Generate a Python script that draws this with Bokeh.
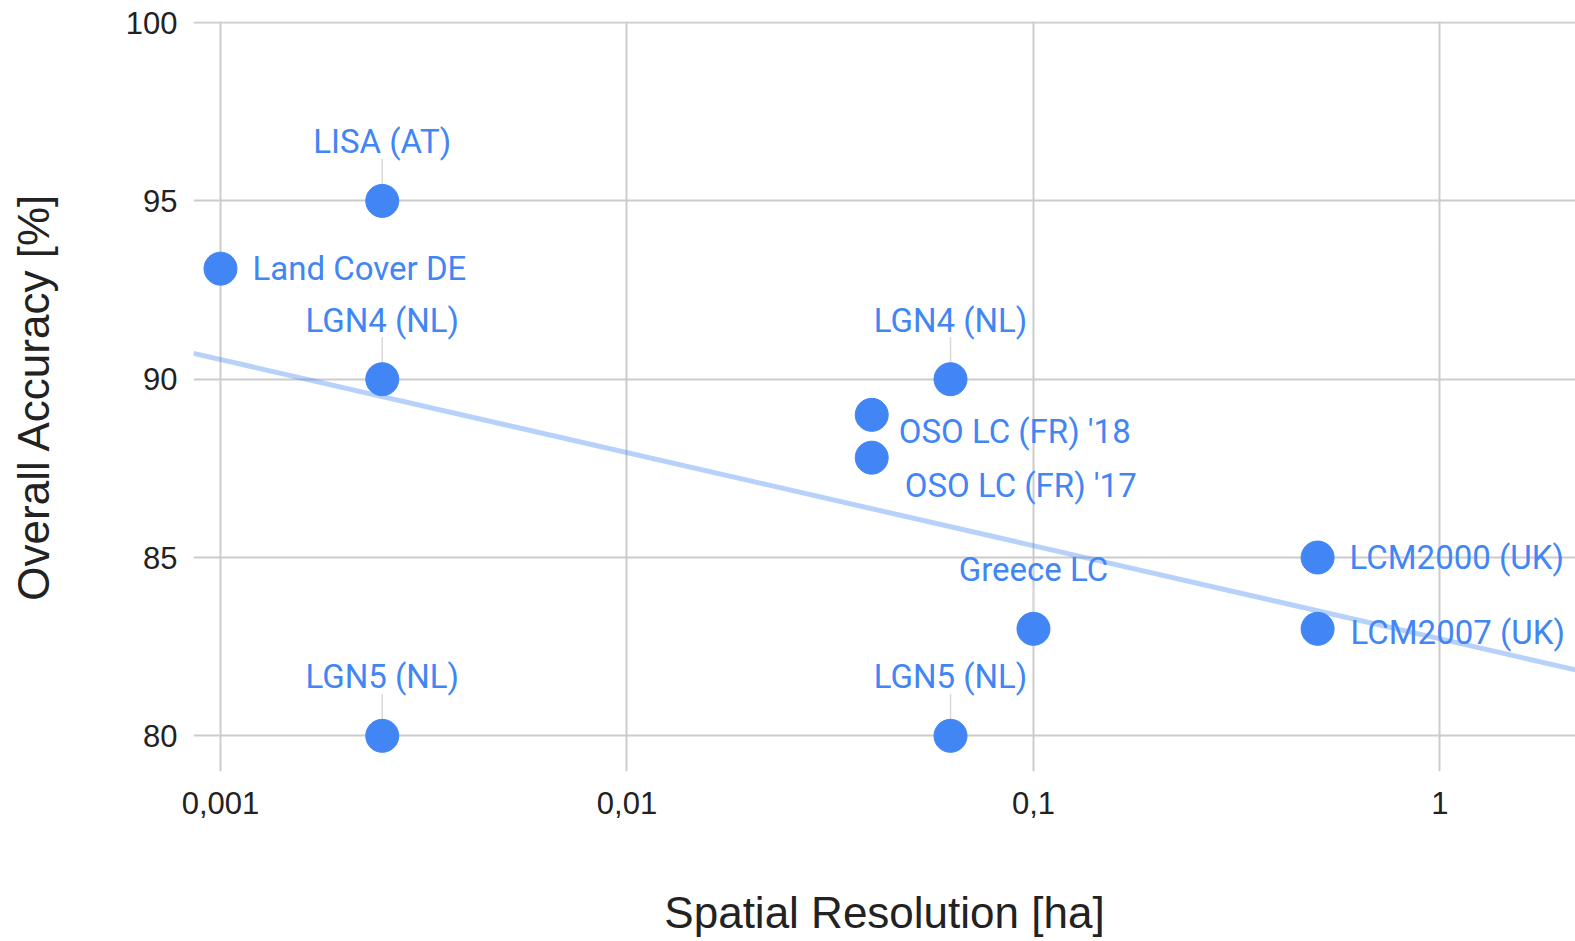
import numpy as np
from bokeh.plotting import figure
from bokeh.models import ColumnDataSource, Range1d, FixedTicker
from bokeh.core.properties import value
from bokeh.embed import file_html
from bokeh.resources import INLINE

# ---------------- data ----------------
names = ["Land Cover DE", "LISA (AT)", "LGN4 (NL)", "LGN5 (NL)", "LGN4 (NL)",
         "LGN5 (NL)", "OSO LC (FR) '18", "OSO LC (FR) '17", "Greece LC",
         "LCM2000 (UK)", "LCM2007 (UK)"]
resolution_ha = [0.001, 0.0025, 0.0025, 0.0025, 0.0625, 0.0625, 0.04, 0.04,
                 0.1, 0.5, 0.5]
accuracy_pct = [93.1, 95, 90, 80, 90, 80, 89, 87.8, 83, 85, 83]
x_tick_values = [0.001, 0.01, 0.1, 1]
x_tick_labels = ["0,001", "0,01", "0,1", "1"]
y_tick_values = [80, 85, 90, 95, 100]
x_title = "Spatial Resolution [ha]"
y_title = "Overall Accuracy [%]"

# ---------------- label placement (style, not data) ----------------
label_side = ["right", "above", "above", "above", "above", "above",
              "below_right", "below_right2", "above", "right", "right2"]
side_style = {
    "above": (0, -59, "center"),
    "right": (32, 0, "left"),
    "right2": (33, 4, "left"),
    "below_right": (27, 17, "left"),
    "below_right2": (33, 28, "left"),
}

# ---------------- layout ----------------
W, H = 1575, 941
LEFT, TOP, BOTTOM, RIGHT = 193, 21, 170, 0
frame_h = H - TOP - BOTTOM
lx0, lx1 = -3.0664, 0.3334
x_start, x_end = 10 ** lx0, 10 ** lx1
y_start, y_end = 79.0, 100.03
px_per_unit = frame_h / (y_end - y_start)

BLUE = "#4285F4"
AXIS_FONT = "Liberation Sans"

p = figure(width=W, height=H, x_axis_type="log",
           x_range=Range1d(x_start, x_end), y_range=Range1d(y_start, y_end),
           output_backend="svg", toolbar_location=None)
p.min_border_left = LEFT
p.min_border_right = RIGHT
p.min_border_top = TOP
p.min_border_bottom = BOTTOM
p.outline_line_color = None
p.background_fill_color = "white"
p.border_fill_color = "white"

# grids
for g in (p.xgrid, p.ygrid):
    g.grid_line_color = "#cccccc"
    g.grid_line_width = 2

# axes
p.xaxis.ticker = FixedTicker(ticks=x_tick_values)
p.xaxis.major_label_overrides = {v: t for v, t in zip(x_tick_values, x_tick_labels)}
p.yaxis.ticker = FixedTicker(ticks=y_tick_values)
for ax in (p.xaxis, p.yaxis):
    ax.axis_line_color = None
    ax.major_tick_line_color = None
    ax.minor_tick_line_color = None
    ax.major_tick_out = 0
    ax.major_tick_in = 0
    ax.major_label_text_font = AXIS_FONT
    ax.major_label_text_font_size = "31px"
    ax.major_label_text_color = "#222222"
    ax.axis_label_text_font = AXIS_FONT
    ax.axis_label_text_font_size = "44px"
    ax.axis_label_text_font_style = "normal"
    ax.axis_label_text_color = "#222222"
p.xaxis.axis_label = x_title
p.yaxis.axis_label = y_title
p.xaxis.major_label_standoff = 20
p.xaxis.axis_label_standoff = 71
p.yaxis.major_label_standoff = 16
p.yaxis.axis_label_standoff = 65

# trendline (least squares on log10 x)
lx = np.log10(np.array(resolution_ha))
slope, intercept = np.polyfit(lx, np.array(accuracy_pct), 1)
tx = np.array([x_start, x_end])
ty = intercept + slope * np.log10(tx)
p.line(tx, ty, line_color=BLUE, line_alpha=0.38, line_width=5)

# leader lines for labels above points
lead_x, lead_y0, lead_y1 = [], [], []
for xv, yv, s in zip(resolution_ha, accuracy_pct, label_side):
    if s == "above":
        lead_x.append(xv)
        lead_y0.append(yv)
        lead_y1.append(yv + 42 / px_per_unit)
p.segment(x0=lead_x, y0=lead_y0, x1=lead_x, y1=lead_y1,
          line_color="#d9d9d9", line_width=1.5)

# points
src = ColumnDataSource(dict(
    x=resolution_ha, y=accuracy_pct, name=names,
    dx=[side_style[s][0] for s in label_side],
    dy=[side_style[s][1] for s in label_side],
    align=[side_style[s][2] for s in label_side],
))
p.scatter("x", "y", source=src, size=33, fill_color=BLUE, line_color=BLUE)

# labels
p.text("x", "y", text="name", source=src, x_offset="dx", y_offset="dy",
       text_align="align", text_baseline="middle",
       text_font=value("Roboto"), text_font_size="33px", text_color=BLUE)

open("out.html", "w").write(file_html(p, INLINE))
